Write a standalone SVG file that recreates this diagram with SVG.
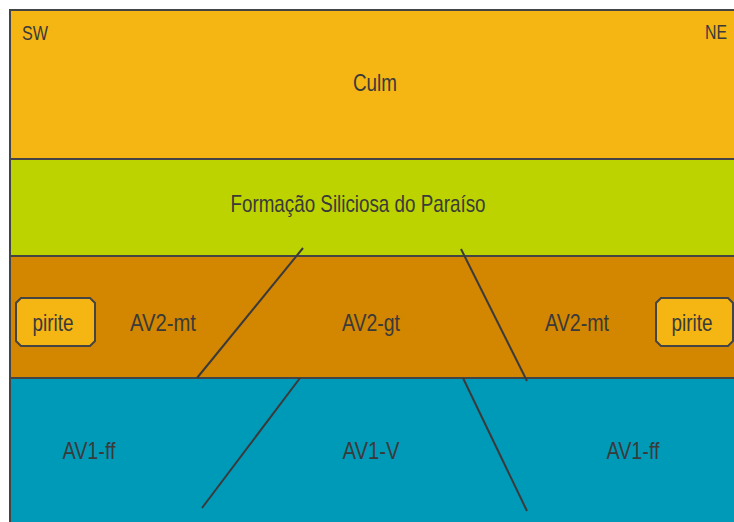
<svg xmlns="http://www.w3.org/2000/svg" width="734" height="522" viewBox="0 0 734 522">
  <style>
    .lbl { font-family: "Liberation Sans", Arial, sans-serif; font-size: 24px; fill: #3a3a3a; text-anchor: middle; }
    .corner { font-family: "Liberation Sans", Arial, sans-serif; font-size: 20px; fill: #3a3a3a; }
    .edge { stroke: #444; stroke-width: 2; fill: none; }
    .fault { stroke: #3a3a3a; stroke-width: 2; fill: none; }
    .box { fill: #F5B614; stroke: #444; stroke-width: 2; }
  </style>
  <rect width="734" height="522" fill="#ffffff"/>

  <!-- strata -->
  <g id="culm">
    <rect x="10" y="10" width="724" height="149" fill="#F5B614"/>
    <text class="lbl" x="375" y="91" textLength="44" lengthAdjust="spacingAndGlyphs">Culm</text>
  </g>
  <g id="paraiso">
    <rect x="10" y="159" width="724" height="97" fill="#BDD300"/>
    <text class="lbl" x="358" y="212" textLength="255" lengthAdjust="spacingAndGlyphs">Formação Siliciosa do Paraíso</text>
  </g>
  <g id="av2">
    <rect x="10" y="256" width="724" height="122" fill="#D38600"/>
    <text class="lbl" x="163" y="331" textLength="66" lengthAdjust="spacingAndGlyphs">AV2-mt</text>
    <text class="lbl" x="371" y="331" textLength="58" lengthAdjust="spacingAndGlyphs">AV2-gt</text>
    <text class="lbl" x="577" y="331" textLength="64" lengthAdjust="spacingAndGlyphs">AV2-mt</text>
  </g>
  <g id="av1">
    <rect x="10" y="378" width="724" height="144" fill="#009AB9"/>
    <text class="lbl" x="89" y="459" textLength="53" lengthAdjust="spacingAndGlyphs">AV1-ff</text>
    <text class="lbl" x="371" y="459" textLength="57" lengthAdjust="spacingAndGlyphs">AV1-V</text>
    <text class="lbl" x="633" y="459" textLength="53" lengthAdjust="spacingAndGlyphs">AV1-ff</text>
  </g>

  <!-- orientation -->
  <g id="orientation">
    <text class="corner" x="22" y="40" textLength="26" lengthAdjust="spacingAndGlyphs">SW</text>
    <text class="corner" x="705" y="39" textLength="22" lengthAdjust="spacingAndGlyphs">NE</text>
  </g>

  <!-- pyrite lenses -->
  <g id="pirite-left">
    <path class="box" d="M21,298 H90 L95,303 V341 L90,346 H21 L16,341 V303 Z"/>
    <text class="lbl" x="53" y="331" textLength="41" lengthAdjust="spacingAndGlyphs">pirite</text>
  </g>
  <g id="pirite-right">
    <path class="box" d="M661,298 H728 L733,303 V341 L728,346 H661 L656,341 V303 Z"/>
    <text class="lbl" x="692" y="331" textLength="41" lengthAdjust="spacingAndGlyphs">pirite</text>
  </g>

  <!-- frame and contacts -->
  <g id="connectors">
    <path class="edge" d="M734,10 H10 V522"/>
    <line class="edge" x1="10" y1="159" x2="734" y2="159"/>
    <line class="edge" x1="10" y1="256" x2="734" y2="256"/>
    <line class="edge" x1="10" y1="378" x2="734" y2="378"/>
    <line class="fault" x1="303" y1="248" x2="197" y2="378"/>
    <line class="fault" x1="461" y1="249" x2="527" y2="381"/>
    <line class="fault" x1="300" y1="378" x2="202" y2="508"/>
    <line class="fault" x1="463" y1="378" x2="527" y2="511"/>
  </g>
</svg>
